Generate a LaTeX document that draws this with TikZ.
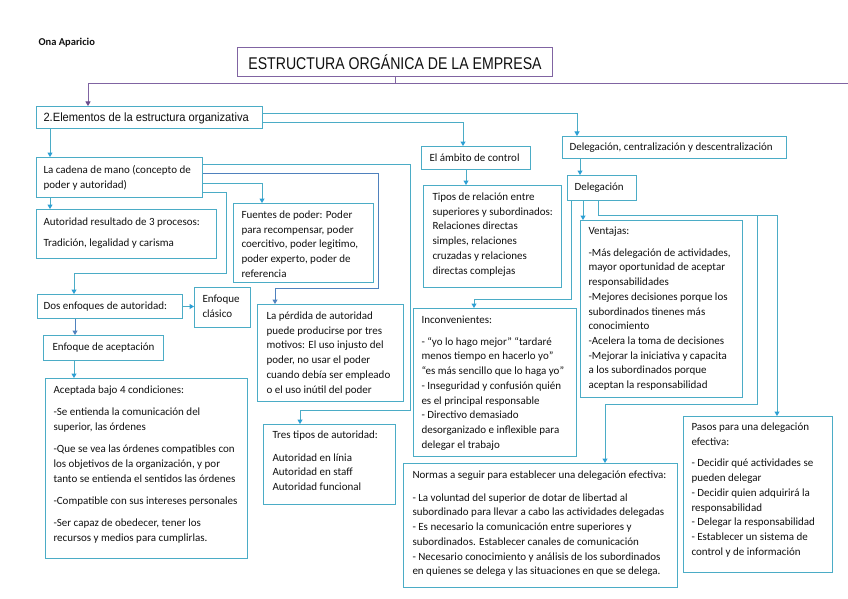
\documentclass[tikz,border=0pt]{standalone}
\usepackage{fontspec}
\usepackage{graphicx}
\setmainfont{Carlito}
\newfontfamily\arialf{Liberation Sans}
\usetikzlibrary{arrows.meta}
\definecolor{boxc}{HTML}{4BACC6}
\definecolor{arrc}{HTML}{2C9FD4}
\definecolor{purp}{HTML}{8064A2}
\definecolor{parrc}{HTML}{6A4C8C}
\definecolor{bluc}{HTML}{4F81BD}
\definecolor{txt}{HTML}{111111}
% \bt{width}{height}{left inset}{top gap}{text}
\newcommand\bt[5]{\parbox[c][#2pt][t]{#1pt}{\raggedright\leftskip=#3pt\relax\vspace*{#4pt}\rule{0pt}{8pt}#5}}
\tikzset{
  bx/.style={draw=boxc, line width=1pt, inner sep=0pt, anchor=north west, text=txt,
    font=\fontsize{11}{14.7}\selectfont},
  ln/.style={draw=boxc, line width=1pt},
  arr/.style={ln, -{Triangle[width=5pt,length=4.5pt,color=arrc]}},
  barr/.style={draw=bluc, line width=1pt, -{Triangle[width=5pt,length=4.5pt]}},
  pln/.style={draw=purp, line width=1pt},
  parr/.style={pln, -{Triangle[width=5pt,length=4.5pt,color=parrc]}},
}
\begin{document}
\begin{tikzpicture}[x=1pt,y=-1pt]
\useasboundingbox[fill=white] (0,0) rectangle (848,599);

\node[anchor=base west, text=txt, font=\bfseries\fontsize{10.5}{12}\selectfont] (ona) at (35,46) {Ona Aparicio};

\node[draw=purp, line width=1pt, anchor=north west, minimum width=315pt, minimum height=29pt, inner sep=0pt, text=txt,
  font=\arialf\fontsize{17}{20}\selectfont] (title) at (237,47) {\scalebox{0.83}[1]{ESTRUCTURA ORGÁNICA DE LA EMPRESA}};

\node[bx] (elem) at (36,106) {\bt{226}{22}{7}{6}{\arialf\fontsize{12}{14}\selectfont\scalebox{0.93}[1]{2.Elementos de la estructura organizativa}}};

\node[bx] (cadena) at (36,157) {\bt{166}{40}{7}{8}{La cadena de mano (concepto de\\ poder y autoridad)}};

\node[bx] (autoridad) at (36,209) {\bt{180}{49}{7}{8}{Autoridad resultado de 3 procesos:\\[6pt] Tradición, legalidad y carisma}};

\node[bx] (fuentes) at (233,203) {\bt{140}{79}{8}{7}{Fuentes de poder: Poder\\ para recompensar, poder\\ coercitivo, poder legitimo,\\ poder experto, poder de\\ referencia}};

\node[bx] (dos) at (37,294) {\bt{145}{24}{6}{7}{Dos enfoques de autoridad:}};

\node[bx] (clasico) at (194,287) {\bt{56}{40}{8}{7}{Enfoque\\ clásico}};

\node[bx] (aceptacion) at (43,335) {\bt{120}{25}{9}{7}{Enfoque de aceptación}};

\node[bx] (aceptada) at (45,378) {\bt{202}{180}{8}{7}{Aceptada bajo 4 condiciones:\\[7.5pt]
-Se entienda la comunicación del\\ superior, las órdenes\\[7.5pt]
-Que se vea las órdenes compatibles con\\ los objetivos de la organización, y por\\ tanto se entienda el sentidos las órdenes\\[7.5pt]
-Compatible con sus intereses personales\\[7.5pt]
-Ser capaz de obedecer, tener los\\ recursos y medios para cumplirlas.}};

\node[bx] (perdida) at (257,304) {\bt{146}{97}{9}{7}{La pérdida de autoridad\\ puede producirse por tres\\ motivos: El uso injusto del\\ poder, no usar el poder\\ cuando debía ser empleado\\ o el uso inútil del poder}};

\node[bx] (trestipos) at (263,424) {\bt{132}{80}{9}{6}{Tres tipos de autoridad:\\[8pt] Autoridad en línia\\ Autoridad en staff\\ Autoridad funcional}};

\node[bx] (ambito) at (421,146) {\bt{109}{23}{8}{7}{El ámbito de control}};

\node[bx] (tipos) at (423,185) {\bt{138}{102}{9}{7}{Tipos de relación entre\\ superiores y subordinados:\\ Relaciones directas\\ simples, relaciones\\ cruzadas y relaciones\\ directas complejas}};

\node[bx] (delcent) at (562,136) {\bt{224}{22}{7}{6}{Delegación, centralización y descentralización}};

\node[bx] (deleg) at (567,175) {\bt{69}{25}{7}{7}{Delegación}};

\node[bx] (ventajas) at (580,220) {\bt{162}{177}{8}{6}{Ventajas:\\[7pt]
-Más delegación de actividades,\\ mayor oportunidad de aceptar\\ responsabilidades\\
-Mejores decisiones porque los\\ subordinados tinenes más\\ conocimiento\\
-Acelera la toma de decisiones\\
-Mejorar la iniciativa y capacita\\ a los subordinados porque\\ aceptan la responsabilidad}};

\node[bx] (inconv) at (413,308) {\bt{163}{148}{8}{7}{Inconvenientes:\\[7pt]
- “yo lo hago mejor” “tardaré\\ menos tiempo en hacerlo yo”\\ “es más sencillo que lo haga yo”\\
- Inseguridad y confusión quién\\ es el principal responsable\\
- Directivo demasiado\\ desorganizado e inflexible para\\ delegar el trabajo}};

\node[bx] (normas) at (403,463) {\bt{274}{124}{9}{7}{Normas a seguir para establecer una delegación efectiva:\\[8pt]
- La voluntad del superior de dotar de libertad al\\ subordinado para llevar a cabo las actividades delegadas\\
- Es necesario la comunicación entre superiores y\\ subordinados. Establecer canales de comunicación\\
- Necesario conocimiento y análisis de los subordinados\\ en quienes se delega y las situaciones en que se delega.}};

\node[bx] (pasos) at (683,416) {\bt{149}{156}{8}{6}{Pasos para una delegación\\ efectiva:\\[7pt]
- Decidir qué actividades se\\ pueden delegar\\
- Decidir quien adquirirá la\\ responsabilidad\\
- Delegar la responsabilidad\\
- Establecer un sistema de\\ control y de información}};

% purple connectors
\coordinate (pright) at (848,84);
\draw[pln] (title.south) -- (title.south |- pright);
\draw[parr] (pright) -| ([xshift=52pt]elem.north west);

% from Elementos
\draw[arr] ([yshift=4pt]elem.east) -| ([xshift=15pt]delcent.north west);
\draw[arr] ([yshift=-5pt]elem.east) -| ([xshift=42pt]ambito.north west);
\draw[arr] ([xshift=14pt]elem.south west) -- ([xshift=14pt]cadena.north west);

% from La cadena de mano
\draw[arr] ([xshift=14pt]cadena.south west) -- ([xshift=14pt]autoridad.north west);
\draw[arr] ([yshift=13pt]cadena.east) -| (410,410) -| ([xshift=37pt]trestipos.north west);
\draw[barr] ([yshift=4pt]cadena.east) -| (378,288) -| ([xshift=18pt]perdida.north west);
\draw[arr] ([yshift=-6pt]cadena.east) -| ([xshift=29pt]fuentes.north west);
\draw[arr] ([yshift=-15pt]cadena.east) -| (226,273) -| ([xshift=37pt]dos.north west);

% enfoques
\draw[arr] (dos.east) -- (dos.east -| clasico.west);
\draw[barr] ([xshift=38pt]dos.south west) -- ([xshift=38pt]dos.south west |- aceptacion.north);
\draw[arr] ([xshift=31pt]aceptacion.south west) -- ([xshift=31pt]aceptacion.south west |- aceptada.north);

% ambito
\draw[arr] ([xshift=45pt]ambito.south west) -- ([xshift=45pt]ambito.south west |- tipos.north);

% delegación
\draw[arr] ([xshift=18pt]delcent.south west) -- ([xshift=18pt]delcent.south west |- deleg.north);
\draw[arr] ([xshift=4pt]deleg.south west) |- ([xshift=61pt,yshift=9pt]inconv.north west) -- ([xshift=61pt]inconv.north west);
\draw[arr] ([xshift=16pt]deleg.south west) -- ([xshift=16pt]deleg.south west |- ventajas.north);
\draw[arr] ([xshift=31pt]deleg.south west) |- (757,215) |- (605,404) -- ([xshift=202pt]normas.north west);
\draw[arr] ([xshift=31pt]deleg.south west) |- (777,215) -- ([xshift=94pt]pasos.north west);
\end{tikzpicture}
\end{document}
